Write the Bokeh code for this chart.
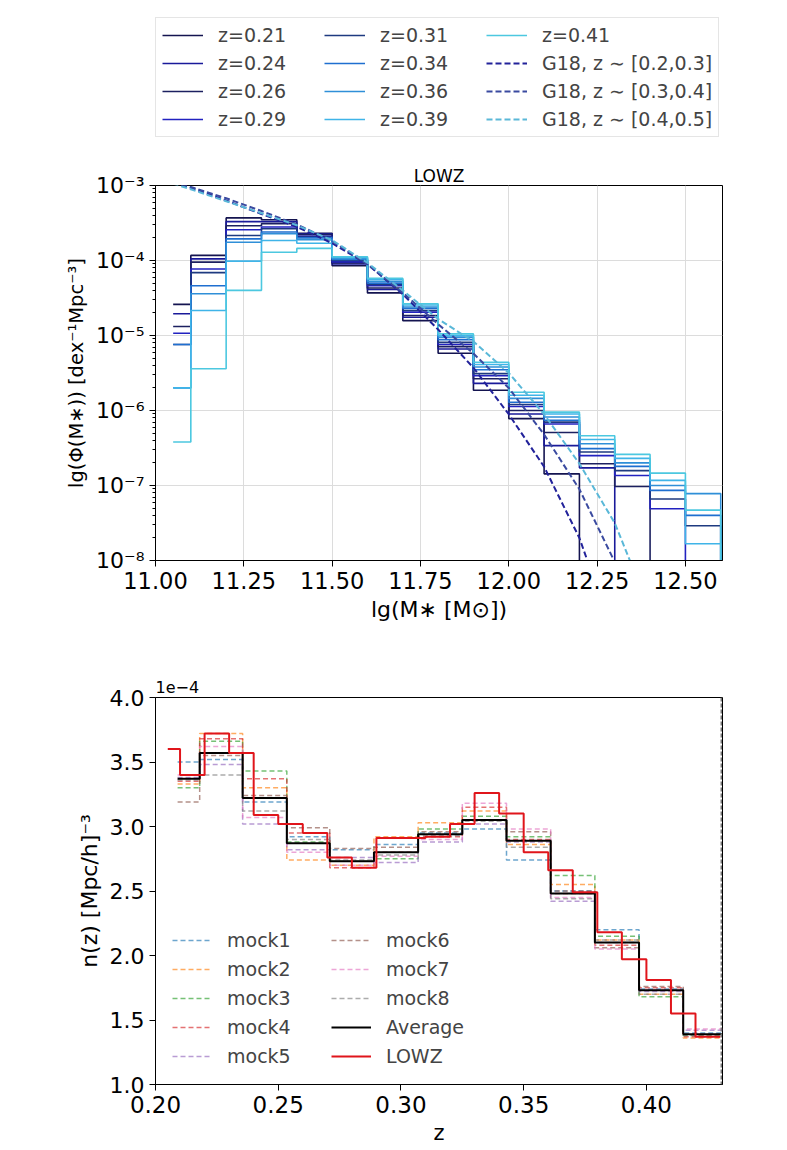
from bokeh.plotting import figure
from bokeh.models import (Legend, LegendItem, FixedTicker, CustomJSTickFormatter,
                          PrintfTickFormatter, Title, Span, Range1d)
from bokeh.layouts import column
from bokeh.embed import file_html
from bokeh.resources import INLINE

FONT = "DejaVu Sans"

# ---------------- upper panel data: stellar mass function ----------------
mass_edges = [11.05, 11.1, 11.2, 11.3, 11.4, 11.5, 11.6, 11.7, 11.8, 11.9,
              12.0, 12.1, 12.2, 12.3, 12.4, 12.5, 12.6]
z_labels = ["z=0.21", "z=0.24", "z=0.26", "z=0.29", "z=0.31",
            "z=0.34", "z=0.36", "z=0.39", "z=0.41"]
phi_z021 = [2.6e-5, 1.17e-4, 3.7e-4, 3.5e-4, 2.3e-4, 8.5e-5, 3.7e-5, 1.58e-5, 5.8e-6, 1.86e-6, 7.8e-7, 1.43e-7, None, None, None, None]
phi_z024 = [1.95e-5, 1.05e-4, 3.3e-4, 3.3e-4, 2.25e-4, 9.0e-5, 4.1e-5, 1.75e-5, 6.6e-6, 2.3e-6, 9.0e-7, 3.4e-7, 1.72e-7, None, None, None]
phi_z026 = [1.32e-5, 9.5e-5, 2.9e-4, 3.1e-4, 2.2e-4, 9.3e-5, 4.3e-5, 1.85e-5, 7.1e-6, 2.65e-6, 1.0e-6, 5.1e-7, 1.95e-7, 9.7e-8, None, None]
phi_z029 = [1.07e-5, 7.7e-5, 2.57e-4, 2.8e-4, 2.1e-4, 9.6e-5, 4.6e-5, 2.05e-5, 7.6e-6, 2.9e-6, 1.13e-6, 6.6e-7, 2.5e-7, 1.36e-7, 4.9e-8, None]
phi_z031 = [7.6e-6, 6.9e-5, 2.15e-4, 2.65e-4, 2.05e-4, 1.0e-4, 4.8e-5, 2.15e-5, 8.1e-6, 3.1e-6, 1.2e-6, 7.0e-7, 2.8e-7, 1.58e-7, 6.6e-8, 2.9e-8]
phi_z034 = [7.6e-6, 4.6e-5, 1.94e-4, 2.4e-4, 2.0e-4, 1.03e-4, 5.0e-5, 2.3e-5, 8.8e-6, 3.5e-6, 1.29e-6, 7.4e-7, 3.1e-7, 1.8e-7, 8.6e-8, 4.0e-8]
phi_z036 = [2.0e-6, 3.6e-5, 1.75e-4, 2.27e-4, 1.9e-4, 1.06e-4, 5.3e-5, 2.4e-5, 9.5e-6, 3.8e-6, 1.45e-6, 8.2e-7, 3.6e-7, 2.0e-7, 1.0e-7, 7.8e-8]
phi_z039 = [2.0e-6, 2.15e-5, 9.8e-5, 1.85e-4, 1.7e-4, 1.1e-4, 5.6e-5, 2.55e-5, 1.0e-5, 4.1e-6, 1.6e-6, 9.0e-7, 4.1e-7, 2.3e-7, 1.17e-7, 1.67e-8]
phi_z041 = [3.8e-7, 3.6e-6, 4.0e-5, 1.29e-4, 1.45e-4, 1.12e-4, 5.8e-5, 2.65e-5, 1.05e-5, 4.4e-6, 1.75e-6, 9.5e-7, 4.6e-7, 2.6e-7, 1.46e-7, 4.7e-8]
z_colors = ["#141450", "#1a1a9a", "#1c2060", "#2222c0", "#1e3a80",
            "#1f6fd0", "#2f8fd8", "#3fb4e8", "#4cc8e0"]

g18_labels = ["G18, z \u223c [0.2,0.3]", "G18, z \u223c [0.3,0.4]", "G18, z \u223c [0.4,0.5]"]
g18_mass_a = [11.0, 11.1, 11.2, 11.3, 11.4, 11.5, 11.6, 11.7, 11.8, 11.9, 12.0, 12.1, 12.2, 12.23]
g18_logphi_a = [-2.88, -3.03, -3.2, -3.38, -3.55, -3.77, -4.05, -4.45, -4.92, -5.43, -6.05, -6.75, -7.7, -8.1]
g18_mass_b = [11.0, 11.1, 11.2, 11.3, 11.4, 11.5, 11.6, 11.7, 11.8, 11.9, 12.0, 12.1, 12.2, 12.3, 12.32]
g18_logphi_b = [-2.87, -3.02, -3.17, -3.34, -3.52, -3.74, -4.05, -4.43, -4.85, -5.24, -5.7, -6.32, -7.05, -8.02, -8.3]
g18_mass_c = [11.0, 11.1, 11.2, 11.3, 11.4, 11.5, 11.6, 11.7, 11.8, 11.9, 12.0, 12.1, 12.2, 12.3, 12.36]
g18_logphi_c = [-2.9, -3.05, -3.21, -3.37, -3.53, -3.73, -4.03, -4.4, -4.78, -5.08, -5.5, -6.05, -6.71, -7.5, -8.2]
g18_colors = ["#22229a", "#3a4aa0", "#5ab8d8"]

# ---------------- lower panel data: n(z) ----------------
z_edges = [0.209, 0.218, 0.2355, 0.2535, 0.271, 0.289, 0.307, 0.325, 0.343,
           0.361, 0.379, 0.397, 0.415, 0.431]
mock_labels = ["mock1", "mock2", "mock3", "mock4", "mock5", "mock6", "mock7", "mock8"]
nz_mock1 = [3.50, 3.52, 3.19, 2.92, 2.82, 2.86, 2.95, 2.98, 2.74, 2.50, 2.20, 1.74, 1.40]
nz_mock2 = [3.33, 3.72, 3.30, 2.74, 2.70, 2.92, 3.03, 3.12, 2.86, 2.55, 2.12, 1.70, 1.36]
nz_mock3 = [3.30, 3.66, 3.43, 2.88, 2.73, 2.75, 2.98, 3.08, 2.92, 2.62, 2.15, 1.68, 1.38]
nz_mock4 = [3.35, 3.68, 3.37, 2.95, 2.68, 2.80, 2.92, 3.15, 2.90, 2.48, 2.08, 1.75, 1.37]
nz_mock5 = [3.38, 3.48, 3.02, 2.82, 2.76, 2.72, 2.88, 3.02, 2.88, 2.42, 2.10, 1.72, 1.42]
nz_mock6 = [3.19, 3.55, 3.24, 2.99, 2.83, 2.84, 2.96, 3.05, 2.96, 2.50, 2.06, 1.76, 1.39]
nz_mock7 = [3.40, 3.62, 3.07, 2.80, 2.70, 2.77, 2.90, 3.18, 2.98, 2.45, 2.05, 1.73, 1.43]
nz_mock8 = [3.36, 3.40, 3.12, 2.90, 2.74, 2.78, 2.93, 3.04, 2.84, 2.44, 2.12, 1.70, 1.38]
mock_colors = ["#1f77b4", "#ff7f0e", "#2ca02c", "#d62728",
               "#9467bd", "#8c564b", "#e377c2", "#7f7f7f"]
nz_average = [3.37, 3.57, 3.22, 2.87, 2.73, 2.80, 2.94, 3.05, 2.89, 2.48, 2.10, 1.73, 1.39]
lowz_edges = [0.205, 0.21, 0.22, 0.23, 0.24, 0.25, 0.26, 0.27, 0.28, 0.29, 0.30,
              0.31, 0.32, 0.33, 0.34, 0.35, 0.36, 0.37, 0.38, 0.39, 0.40, 0.41,
              0.42, 0.43]
nz_lowz = [3.60, 3.40, 3.72, 3.57, 3.09, 3.02, 2.95, 2.76, 2.68, 2.91, 2.91, 2.92,
           3.02, 3.26, 3.10, 2.80, 2.66, 2.49, 2.18, 1.97, 1.81, 1.55, 1.37]
nz_offset_label = "1e\u22124"
z_end_line = 0.4305


def step_xy(edges, vals, floor=None, drop_end=False):
    xs, ys = [], []
    for i, v in enumerate(vals):
        y = floor if v is None else v
        xs += [edges[i], edges[i + 1]]
        ys += [y, y]
    if drop_end:
        xs.append(edges[-1])
        ys.append(floor)
    return xs, ys


def style_axes(p, xtick="22px", ytick="22px", xlab="21px", ylab="21px"):
    for ax, ts, ls in ((p.xaxis, xtick, xlab), (p.yaxis, ytick, ylab)):
        ax.major_label_text_font = FONT
        ax.major_label_text_font_size = ts
        ax.major_label_text_color = "black"
        ax.axis_label_text_font = FONT
        ax.axis_label_text_font_size = ls
        ax.axis_label_text_font_style = "normal"
        ax.axis_label_text_color = "black"
        ax.axis_line_color = "black"
        ax.major_tick_line_color = "black"
        ax.major_tick_out = 6
        ax.major_tick_in = 0
        ax.minor_tick_out = 3
        ax.minor_tick_in = 0
    p.outline_line_color = "black"
    p.outline_line_width = 1
    p.background_fill_color = "white"
    p.border_fill_color = "white"


# ---------------- legend strip (top); its key lines use the same data, out of view ----------------
p0 = figure(width=787, height=160, x_range=Range1d(0, 1), y_range=Range1d(0, 1),
            output_backend="svg", toolbar_location=None, title=None,
            min_border_left=155, min_border_right=65, min_border_top=0,
            min_border_bottom=0)
p0.axis.visible = False
p0.grid.grid_line_color = None
p0.outline_line_color = None
p0.border_fill_color = "white"

# ---------------- upper figure ----------------
p1 = figure(width=787, height=480, y_axis_type="log",
            x_range=Range1d(11.0, 12.605), y_range=Range1d(1e-8, 1e-3),
            output_backend="svg", toolbar_location=None, title=None,
            min_border_left=155, min_border_right=65, min_border_top=25,
            min_border_bottom=80)
style_axes(p1, xtick="22.5px", ytick="22px", xlab="22px", ylab="19.5px")

FLOOR = 1e-11
hist_series = [phi_z021, phi_z024, phi_z026, phi_z029, phi_z031,
               phi_z034, phi_z036, phi_z039, phi_z041]
legend_items = []
for lab, vals, col in zip(z_labels, hist_series, z_colors):
    xs, ys = step_xy(mass_edges, vals, floor=FLOOR, drop_end=True)
    p1.line(xs, ys, line_color=col, line_width=1.6)
    key = p0.line(xs, ys, line_color=col, line_width=1.6)
    legend_items.append(LegendItem(label=lab, renderers=[key]))

for lab, mx, lphi, col in zip(g18_labels,
                              [g18_mass_a, g18_mass_b, g18_mass_c],
                              [g18_logphi_a, g18_logphi_b, g18_logphi_c],
                              g18_colors):
    phis = [10 ** v for v in lphi]
    p1.line(mx, phis, line_color=col, line_width=2, line_dash="6 3")
    key = p0.line(mx, phis, line_color=col, line_width=2, line_dash="6 3")
    legend_items.append(LegendItem(label=lab, renderers=[key]))

p1.xaxis.ticker = FixedTicker(ticks=[11.0, 11.25, 11.5, 11.75, 12.0, 12.25, 12.5])
p1.xaxis.formatter = PrintfTickFormatter(format="%.2f")
p1.xaxis.minor_tick_line_color = None
decades = [1e-8, 1e-7, 1e-6, 1e-5, 1e-4, 1e-3]
minor = [k * d for d in decades[:-1] for k in range(2, 10)]
p1.yaxis.ticker = FixedTicker(ticks=decades, minor_ticks=minor)
p1.yaxis.minor_tick_line_color = "black"
p1.yaxis.formatter = CustomJSTickFormatter(code=r"""
const sup = {"-": "\u207b", "0": "\u2070", "1": "\u00b9", "2": "\u00b2", "3": "\u00b3",
             "4": "\u2074", "5": "\u2075", "6": "\u2076", "7": "\u2077", "8": "\u2078", "9": "\u2079"};
const e = Math.round(Math.log10(tick));
return "10" + String(e).split("").map(c => sup[c]).join("");
""")
p1.xaxis.axis_label = "lg(M\u2217 [M\u2299])"
p1.yaxis.axis_label = "lg(\u03a6(M\u2217)) [dex\u207b\u00b9Mpc\u207b\u00b3]"
p1.xgrid.grid_line_color = "#dcdcdc"
p1.ygrid.grid_line_color = "#dcdcdc"

p1.add_layout(Title(text="LOWZ", align="center", text_font=FONT,
                    text_font_size="17px", text_font_style="normal",
                    text_color="black", standoff=0), "above")

legend1 = Legend(items=legend_items, orientation="vertical", nrows=4,
                 location=(0, 23), label_text_font=FONT,
                 label_text_font_size="19px", glyph_width=41, glyph_height=20,
                 label_height=20, spacing=6, padding=6, label_standoff=15,
                 label_width=100, border_line_color="#cccccc",
                 background_fill_color="white")
p0.add_layout(legend1)

# ---------------- lower figure ----------------
p2 = figure(width=787, height=510, x_range=Range1d(0.2, 0.431),
            y_range=Range1d(1.0, 4.0), output_backend="svg",
            toolbar_location=None, title=None,
            min_border_left=155, min_border_right=65, min_border_top=57,
            min_border_bottom=66)
style_axes(p2, xtick="23px", ytick="22px", xlab="21px", ylab="22px")
p2.grid.grid_line_color = None
p2.xaxis.ticker = FixedTicker(ticks=[0.20, 0.25, 0.30, 0.35, 0.40])
p2.xaxis.formatter = PrintfTickFormatter(format="%.2f")
p2.yaxis.ticker = FixedTicker(ticks=[1.0, 1.5, 2.0, 2.5, 3.0, 3.5, 4.0])
p2.yaxis.formatter = PrintfTickFormatter(format="%.1f")
p2.xaxis.minor_tick_line_color = None
p2.yaxis.minor_tick_line_color = None
p2.xaxis.axis_label = "z"
p2.yaxis.axis_label = "n(z) [Mpc/h]\u207b\u00b3"

p2.add_layout(Title(text=nz_offset_label, align="left", text_font=FONT,
                    text_font_size="16px", text_font_style="normal",
                    text_color="black"), "above")

items2 = []
mock_series = [nz_mock1, nz_mock2, nz_mock3, nz_mock4, nz_mock5, nz_mock6, nz_mock7, nz_mock8]
for lab, vals, col in zip(mock_labels, mock_series, mock_colors):
    xs, ys = step_xy(z_edges, vals)
    r = p2.line(xs, ys, line_color=col, line_width=1.5, line_alpha=0.65,
                line_dash="5 3")
    items2.append(LegendItem(label=lab, renderers=[r]))
xs, ys = step_xy(z_edges, nz_average)
r_avg = p2.line(xs, ys, line_color="black", line_width=2)
items2.append(LegendItem(label="Average", renderers=[r_avg]))
xs, ys = step_xy(lowz_edges, nz_lowz)
r_lowz = p2.line(xs, ys, line_color="#e0151b", line_width=2)
items2.append(LegendItem(label="LOWZ", renderers=[r_lowz]))

p2.add_layout(Span(location=z_end_line, dimension="height", line_color="#777777",
                   line_dash="4 2", line_width=1.5))

legend2 = Legend(items=items2, orientation="vertical", nrows=5,
                 location="bottom_left", label_text_font=FONT,
                 label_text_font_size="19px", glyph_width=40, glyph_height=20,
                 label_height=20, spacing=7, padding=7, label_standoff=15,
                 label_width=97, border_line_alpha=0, background_fill_alpha=0,
                 margin=10)
p2.add_layout(legend2)

layout = column(p0, p1, p2)
open("out.html", "w").write(file_html(layout, INLINE))
